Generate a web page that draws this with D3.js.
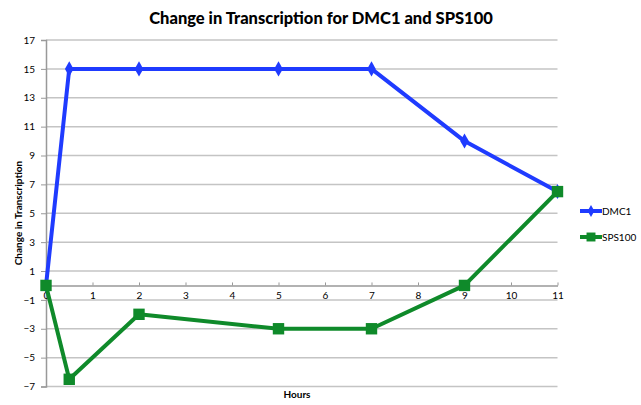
<!DOCTYPE html>
<html>
<head>
<meta charset="utf-8">
<script src="https://cdn.jsdelivr.net/npm/d3@7"></script>
<style>
  body { margin: 0; background: #fff; }
  text { font-family: "Lato", "Open Sans", sans-serif; fill: #000; }
</style>
</head>
<body>
<div id="chart"></div>
<script>
// data
var hours = [0, 0.5, 2, 5, 7, 9, 11];
var dmc1 = [0, 15, 15, 15, 15, 10, 6.5];
var sps100 = [0, -6.5, -2, -3, -3, 0, 6.5];
var xTicks = [0, 1, 2, 3, 4, 5, 6, 7, 8, 9, 10, 11];
var yTicks = [-7, -5, -3, -1, 1, 3, 5, 7, 9, 11, 13, 15, 17];

var width = 641, height = 405;

var x = d3.scaleLinear().domain([0, 11]).range([46, 557.5]);
var y = d3.scaleLinear().domain([-7, 17]).range([386.5, 40]);

var svg = d3.select("#chart")
  .append("svg")
  .attr("width", width)
  .attr("height", height);

// gridlines
svg.append("g")
  .selectAll("line")
  .data(yTicks)
  .enter()
  .append("line")
  .attr("x1", x(0))
  .attr("x2", x(11))
  .attr("y1", function(d){ return y(d) })
  .attr("y2", function(d){ return y(d) })
  .style("stroke", "#c4c4c4")
  .style("stroke-width", 1.5);

// y axis
var yAxis = d3.axisLeft(y).tickValues(yTicks).tickSize(5).tickPadding(6);
var gy = svg.append("g").attr("transform", "translate(" + x(0) + ",0)").call(yAxis);
gy.select(".domain").style("stroke", "#999").style("stroke-width", 1.5);
gy.selectAll(".tick line").style("stroke", "#999");
gy.selectAll("text").style("font-size", "10px").style("font-family", "Lato, sans-serif");

// x axis sits on y = 0
var xAxis = d3.axisTop(x).tickValues(xTicks).tickSize(3).tickSizeOuter(0);
var gx = svg.append("g").attr("transform", "translate(0," + y(0) + ")").call(xAxis);
gx.select(".domain").style("stroke", "#999").style("stroke-width", 1.5);
gx.selectAll(".tick line").style("stroke", "#999");
gx.selectAll("text")
  .attr("y", 14)
  .attr("dy", "0")
  .style("font-size", "10px")
  .style("font-family", "Lato, sans-serif");

var series = [
  { name: "DMC1", values: dmc1, color: "#1f3bff", marker: "diamond" },
  { name: "SPS100", values: sps100, color: "#0f8a2a", marker: "square" }
];

var line = d3.line()
  .x(function(d){ return x(d[0]) })
  .y(function(d){ return y(d[1]) });

series.forEach(function(s){
  var pts = hours.map(function(h, i){ return [h, s.values[i]] });
  svg.append("path")
    .datum(pts)
    .attr("d", line)
    .style("fill", "none")
    .style("stroke", s.color)
    .style("stroke-width", 4)
    .style("stroke-linejoin", "round");

  var sym = s.marker == "diamond"
    ? d3.symbol().type(d3.symbolDiamond).size(65)
    : d3.symbol().type(d3.symbolSquare).size(130);

  svg.append("g")
    .selectAll("path")
    .data(pts)
    .enter()
    .append("path")
    .attr("d", sym)
    .attr("transform", function(d){ return "translate(" + x(d[0]) + "," + y(d[1]) + ")" })
    .style("fill", s.color);
});

// legend
var legend = svg.append("g")
  .selectAll("g")
  .data(series)
  .enter()
  .append("g")
  .attr("transform", function(d, i){ return "translate(580," + (211 + i * 26) + ")" });

legend.append("line")
  .attr("x1", 0).attr("x2", 22)
  .style("stroke", function(d){ return d.color })
  .style("stroke-width", 4);

legend.append("path")
  .attr("d", function(d){
    return d.marker == "diamond"
      ? d3.symbol().type(d3.symbolDiamond).size(40)()
      : d3.symbol().type(d3.symbolSquare).size(80)();
  })
  .attr("transform", "translate(11,0)")
  .style("fill", function(d){ return d.color });

legend.append("text")
  .attr("x", 22)
  .attr("dy", "0.35em")
  .style("font-size", "10px")
  .text(function(d){ return d.name });

// title and axis titles
svg.append("text")
  .attr("x", 321)
  .attr("y", 24)
  .attr("text-anchor", "middle")
  .style("font-size", "16.5px")
  .style("font-weight", "900")
  .text("Change in Transcription for DMC1 and SPS100");

svg.append("text")
  .attr("transform", "translate(22,213) rotate(-90)")
  .attr("text-anchor", "middle")
  .style("font-size", "10px")
  .style("font-weight", "bold")
  .text("Change in Transcription");

svg.append("text")
  .attr("x", 297)
  .attr("y", 398)
  .attr("text-anchor", "middle")
  .style("font-size", "10px")
  .style("font-weight", "bold")
  .text("Hours");
</script>
</body>
</html>
